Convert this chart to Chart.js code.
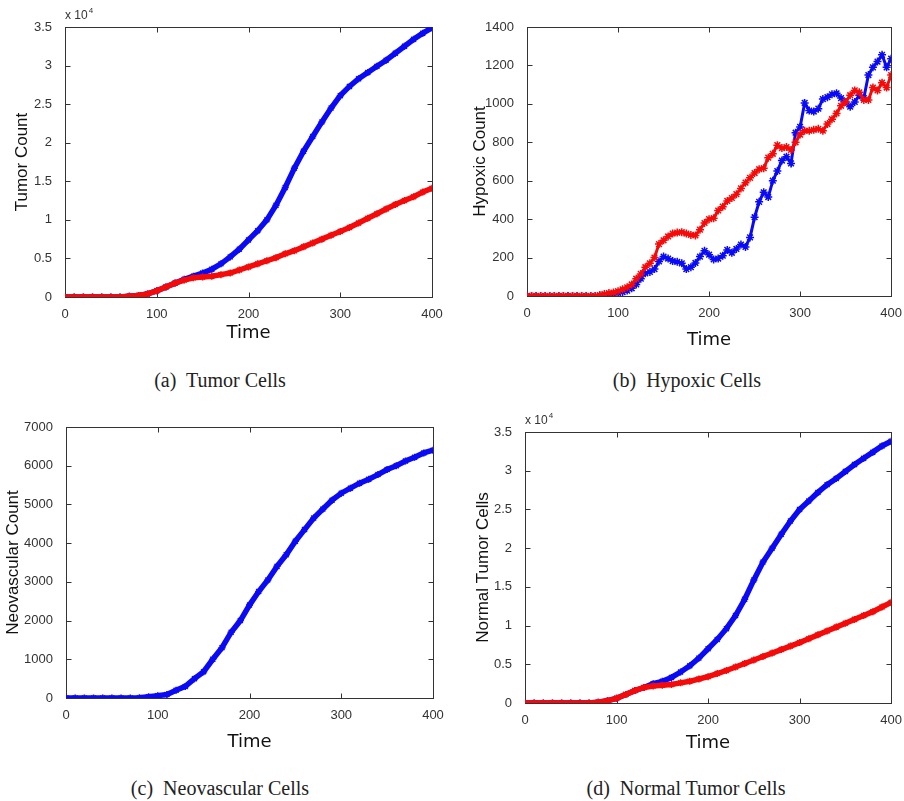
<!DOCTYPE html>
<html>
<head>
<meta charset="utf-8">
<script src="https://cdn.jsdelivr.net/npm/chart.js@4.4.1/dist/chart.umd.min.js"></script>
<style>
  body { margin: 0; background: #fff; }
  #page { position: relative; width: 904px; height: 801px; overflow: hidden; background: #fff; }
  .panel { position: absolute; }
  .caption {
    position: absolute; transform: translate(-50%, -50%);
    font-family: "Liberation Serif", "Times New Roman", serif; font-size: 20px;
    color: #222; white-space: pre;
  }
</style>
</head>
<body>
<div id="page">
  <div class="panel" style="left:0;top:0"><canvas id="tumor" width="450" height="350"></canvas></div>
  <div class="panel" style="left:450px;top:0"><canvas id="hypoxic" width="454" height="360"></canvas></div>
  <div class="panel" style="left:0;top:400px"><canvas id="neovascular" width="450" height="360"></canvas></div>
  <div class="panel" style="left:450px;top:400px"><canvas id="normal" width="454" height="360"></canvas></div>

  <div class="caption" style="left:220px;top:380px">(a)  Tumor Cells</div>
  <div class="caption" style="left:687px;top:380px">(b)  Hypoxic Cells</div>
  <div class="caption" style="left:220px;top:788px">(c)  Neovascular Cells</div>
  <div class="caption" style="left:686px;top:788px">(d)  Normal Tumor Cells</div>
</div>
<script>
  "use strict";

  // time steps
  var times10 = [0, 10, 20, 30, 40, 50, 60, 70, 80, 90, 100, 110, 120, 130, 140, 150, 160, 170, 180, 190, 200,
    210, 220, 230, 240, 250, 260, 270, 280, 290, 300, 310, 320, 330, 340, 350, 360, 370, 380, 390, 400];
  var times5 = [0, 5, 10, 15, 20, 25, 30, 35, 40, 45, 50, 55, 60, 65, 70, 75, 80, 85, 90, 95, 100,
    105, 110, 115, 120, 125, 130, 135, 140, 145, 150, 155, 160, 165, 170, 175, 180, 185, 190, 195, 200,
    205, 210, 215, 220, 225, 230, 235, 240, 245, 250, 255, 260, 265, 270, 275, 280, 285, 290, 295, 300,
    305, 310, 315, 320, 325, 330, 335, 340, 345, 350, 355, 360, 365, 370, 375, 380, 385, 390, 395, 400];

  // (a) tumor count
  var tumorBlue = [0, 0, 0, 0, 0, 0, 0, 100, 200, 400, 800, 1300, 1800, 2300, 2700, 3100, 3600, 4300, 5200, 6200, 7400,
    8600, 10000, 11900, 14200, 16700, 18900, 20800, 22700, 24500, 26100, 27300, 28300, 29100, 29900, 30700,
    31600, 32500, 33400, 34200, 34900];
  var tumorRed = [0, 0, 0, 0, 0, 0, 0, 100, 200, 400, 800, 1300, 1800, 2200, 2500, 2600, 2700, 2900, 3100, 3500, 3900,
    4300, 4700, 5100, 5600, 6000, 6500, 7000, 7500, 8000, 8500, 9000, 9600, 10200, 10800, 11400,
    12000, 12500, 13000, 13600, 14100];

  // (b) hypoxic count
  var hypoxicBlue = [0, 0, 0, 0, 0, 0, 0, 0, 0, 0, 0, 0, 0, 0, 0, 0, 0,
    3, 6, 10, 15, 20, 28, 40, 60, 90, 118, 125, 140, 180, 205,
    195, 182, 178, 170, 140, 150, 172, 205, 235, 215,
    190, 195, 210, 240, 225, 245, 268, 255, 305, 410,
    490, 540, 515, 600, 650, 705, 725, 690, 850, 880,
    1005, 965, 960, 975, 1025, 1035, 1050, 1055, 1030, 1010,
    985, 1010, 1045, 1030, 1150, 1190, 1220, 1255, 1190, 1235];
  var hypoxicRed = [0, 0, 0, 0, 0, 0, 0, 0, 0, 0, 0, 0, 0, 0, 0, 0,
    5, 10, 15, 18, 25, 35, 45, 60, 90, 115, 150, 170, 200, 270, 290,
    310, 325, 330, 332, 325, 318, 315, 345, 380, 400,
    405, 445, 465, 495, 510, 530, 560, 590, 615, 640,
    660, 665, 720, 740, 785, 770, 775, 760, 800, 840,
    860, 860, 865, 870, 860, 895, 920, 950, 990, 1010,
    1045, 1070, 1060, 1020, 1020, 1085, 1070, 1110, 1085, 1150];

  // (c) neovascular count
  var neovascularBlue = [0, 0, 0, 0, 0, 0, 0, 0, 5, 30, 60, 90, 200, 300, 500, 680, 1000, 1300, 1700, 2000, 2400,
    2750, 3050, 3400, 3700, 4050, 4350, 4650, 4880, 5110, 5290, 5420, 5550, 5650, 5770, 5900,
    6000, 6120, 6220, 6330, 6400];

  // (d) normal tumor cells
  var normalBlue = [0, 0, 0, 0, 0, 0, 0, 0, 100, 300, 600, 1100, 1600, 2000, 2500, 2800, 3300, 4000, 4800, 5800, 7000,
    8200, 9600, 11300, 13400, 15900, 18200, 20000, 21800, 23500, 25000, 26100, 27200, 28200, 29000, 29900,
    30800, 31600, 32400, 33200, 33800];
  var normalRed = [0, 0, 0, 0, 0, 0, 0, 0, 100, 300, 600, 1100, 1600, 2000, 2200, 2300, 2400, 2600, 2800, 3100, 3400,
    3800, 4200, 4650, 5100, 5550, 6000, 6450, 6900, 7350, 7800, 8300, 8800, 9300, 9800, 10300,
    10800, 11300, 11800, 12400, 13000];

  var BLUE = '#0a0af5', RED = '#f50a0a';
  var tickFont = { family: "'Liberation Sans', Arial, sans-serif", size: 13 };

  // matlab-like box with inward ticks, plus the "x 10^4" multiplier
  var matlabBox = {
    id: 'matlabBox',
    beforeDatasetsDraw: function (chart, args, opts) {
      var ctx = chart.ctx, a = chart.chartArea, sx = chart.scales.x, sy = chart.scales.y;
      var l = Math.round(a.left) + 0.5, r = Math.round(a.right) + 0.5;
      var t = Math.round(a.top) + 0.5, b = Math.round(a.bottom) + 0.5;
      ctx.save();
      ctx.strokeStyle = '#333';
      ctx.lineWidth = 1;
      ctx.strokeRect(l, t, r - l, b - t);
      ctx.beginPath();
      sx.ticks.forEach(function (tk) {
        var px = Math.round(sx.getPixelForValue(tk.value)) + 0.5;
        ctx.moveTo(px, b); ctx.lineTo(px, b - 5);
        ctx.moveTo(px, t); ctx.lineTo(px, t + 5);
      });
      sy.ticks.forEach(function (tk) {
        var py = Math.round(sy.getPixelForValue(tk.value)) + 0.5;
        ctx.moveTo(l, py); ctx.lineTo(l + 5, py);
        ctx.moveTo(r, py); ctx.lineTo(r - 5, py);
      });
      ctx.stroke();
      if (opts.exponent) {
        ctx.fillStyle = '#333';
        ctx.textBaseline = 'middle';
        ctx.textAlign = 'left';
        ctx.font = "12px 'Liberation Sans', Arial, sans-serif";
        ctx.fillText('x 10', a.left, a.top - 11);
        var w = ctx.measureText('x 10').width;
        ctx.font = "8px 'Liberation Sans', Arial, sans-serif";
        ctx.fillText(String(opts.exponent), a.left + w + 1, a.top - 16);
      }
      ctx.restore();
    }
  };

  function series(times, values, color, cfg) {
    return {
      data: times.map(function (t, i) { return { x: t, y: values[i] }; }),
      borderColor: color,
      backgroundColor: color,
      borderWidth: cfg.lineWidth,
      pointStyle: 'star',
      pointRadius: cfg.markerSize,
      pointBorderWidth: 1.5,
      pointBorderColor: color,
      tension: 0,
      fill: false
    };
  }

  function cellChart(id, cfg) {
    var datasets = cfg.lines.map(function (ln) { return series(ln[0], ln[1], ln[2], cfg); });
    return new Chart(document.getElementById(id), {
      type: 'line',
      data: { datasets: datasets },
      options: {
        responsive: false,
        animation: false,
        events: [],
        layout: { padding: { top: cfg.padTop, right: cfg.padRight, left: 0, bottom: 0 } },
        plugins: {
          legend: { display: false },
          tooltip: { enabled: false },
          matlabBox: { exponent: cfg.exponent }
        },
        scales: {
          x: {
            type: 'linear', min: 0, max: 400,
            grid: { display: false }, border: { display: false },
            ticks: { stepSize: 100, padding: 2, font: tickFont, color: '#333', maxRotation: 0 },
            title: {
              display: true, text: 'Time', color: '#111',
              font: { family: "'DejaVu Sans', sans-serif", size: 18 },
              padding: { top: 0, bottom: cfg.timePad }
            },
            afterFit: function (scale) { scale.height = cfg.xHeight; }
          },
          y: {
            type: 'linear', min: 0, max: cfg.yMax,
            grid: { display: false }, border: { display: false },
            ticks: {
              stepSize: cfg.yStep, padding: 5, font: tickFont, color: '#333',
              callback: function (v) { return cfg.exponent ? String(v / 10000) : String(v); }
            },
            title: {
              display: true, text: cfg.yTitle, color: '#111',
              font: { family: "'Liberation Sans', Arial, sans-serif", size: 17 },
              padding: { top: cfg.yTitlePad, bottom: 0 }
            },
            afterFit: function (scale) { scale.width = cfg.yWidth; }
          }
        }
      },
      plugins: [matlabBox]
    });
  }

  // red first so it is painted over the blue
  cellChart('tumor', {
    lines: [[times10, tumorRed, RED], [times10, tumorBlue, BLUE]],
    yMax: 35000, yStep: 5000, exponent: 4, yTitle: 'Tumor Count',
    padTop: 27, padRight: 18, yWidth: 65, xHeight: 53, timePad: 6, yTitlePad: 12,
    lineWidth: 5.5, markerSize: 3.5
  });
  cellChart('hypoxic', {
    lines: [[times5, hypoxicRed, RED], [times5, hypoxicBlue, BLUE]],
    yMax: 1400, yStep: 200, exponent: 0, yTitle: 'Hypoxic Count',
    padTop: 27, padRight: 10, yWidth: 77, xHeight: 64, timePad: 9, yTitlePad: 20,
    lineWidth: 3, markerSize: 4
  });
  cellChart('neovascular', {
    lines: [[times10, neovascularBlue, BLUE]],
    yMax: 7000, yStep: 1000, exponent: 0, yTitle: 'Neovascular Count',
    padTop: 27, padRight: 17, yWidth: 66, xHeight: 62, timePad: 7, yTitlePad: 3,
    lineWidth: 5.5, markerSize: 3.5
  });
  cellChart('normal', {
    lines: [[times10, normalRed, RED], [times10, normalBlue, BLUE]],
    yMax: 35000, yStep: 5000, exponent: 4, yTitle: 'Normal Tumor Cells',
    padTop: 32, padRight: 11, yWidth: 75, xHeight: 57, timePad: 6, yTitlePad: 23,
    lineWidth: 5.5, markerSize: 3.5
  });
</script>
</body>
</html>
